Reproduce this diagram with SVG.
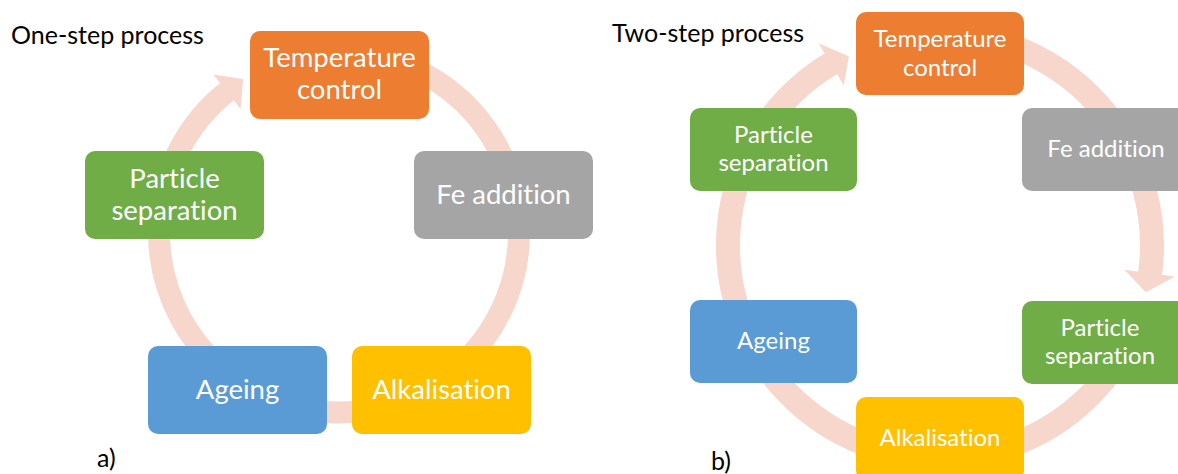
<svg xmlns="http://www.w3.org/2000/svg" width="1178" height="474" viewBox="0 0 1178 474">
<style>
.ring{fill:none;stroke:#F7D6CC}
.head{fill:#F7D6CC}
text{font-family:Lato,"Open Sans","Liberation Sans",sans-serif;font-variant-ligatures:none}
.lt{fill:#fff;text-anchor:middle;font-size:27.5px}
.rt{fill:#fff;text-anchor:middle;font-size:24px}
.cap{fill:#000;font-size:25px}
.or{fill:#ED7D31}.gy{fill:#A5A5A5}.gd{fill:#FFC000}.bl{fill:#5B9BD5}.gr{fill:#70AD47}
</style>
<rect width="1178" height="474" fill="#fff"/>
<g id="connectors">
<path class="ring" stroke-width="22" d="M354.69,53.18 A180,180 0 1 1 229.4,89.7"/>
<polygon class="head" points="213.3,74.4 243.1,79.0 240.6,108.9"/>
<path class="ring" stroke-width="24" d="M958.48,34.31 A212,212 0 0 1 1149.9,275.0"/>
<polygon class="head" points="1124.4,269.8 1145.8,292.2 1175.0,276.4"/>
<path class="ring" stroke-width="24" d="M1139.2,318.0 A212,212 0 1 1 832.4,62.8"/>
<polygon class="head" points="818.5,43.2 848.9,56.3 843.7,85.2"/>
</g>
<g id="a-temp"><rect class="or" x="250" y="31" width="179" height="88" rx="10"/><text class="lt" x="339.5" y="67">Temperature</text><text class="lt" x="339.5" y="99">control</text></g>
<g id="a-fe"><rect class="gy" x="414" y="151" width="179" height="88" rx="10"/><text class="lt" x="503.5" y="204">Fe addition</text></g>
<g id="a-alk"><rect class="gd" x="352" y="346" width="179" height="88" rx="10"/><text class="lt" x="441.5" y="399">Alkalisation</text></g>
<g id="a-age"><rect class="bl" x="148" y="346" width="179" height="88" rx="10"/><text class="lt" x="237.5" y="399">Ageing</text></g>
<g id="a-part"><rect class="gr" x="85" y="151" width="179" height="88" rx="10"/><text class="lt" x="174.5" y="188">Particle</text><text class="lt" x="174.5" y="220">separation</text></g>
<g id="b-temp"><rect class="or" x="856" y="12" width="168" height="83" rx="10"/><text class="rt" x="940" y="47">Temperature</text><text class="rt" x="940" y="76">control</text></g>
<g id="b-fe"><rect class="gy" x="1022" y="108" width="168" height="83" rx="10"/><text class="rt" x="1106" y="157">Fe addition</text></g>
<g id="b-part2"><rect class="gr" x="1022" y="301" width="168" height="83" rx="10"/><text class="rt" x="1100" y="336">Particle</text><text class="rt" x="1100" y="364">separation</text></g>
<g id="b-alk"><rect class="gd" x="856" y="397" width="168" height="83" rx="10"/><text class="rt" x="940" y="446">Alkalisation</text></g>
<g id="b-age"><rect class="bl" x="690" y="300" width="167" height="83" rx="10"/><text class="rt" x="773.5" y="349">Ageing</text></g>
<g id="b-part1"><rect class="gr" x="690" y="108" width="167" height="83" rx="10"/><text class="rt" x="773.5" y="143">Particle</text><text class="rt" x="773.5" y="171">separation</text></g>
<text class="cap" x="11" y="44">One-step process</text>
<text class="cap" x="612" y="42">Two-step process</text>
<text class="cap" x="97" y="467">a)</text>
<text class="cap" x="711" y="470">b)</text>
</svg>
